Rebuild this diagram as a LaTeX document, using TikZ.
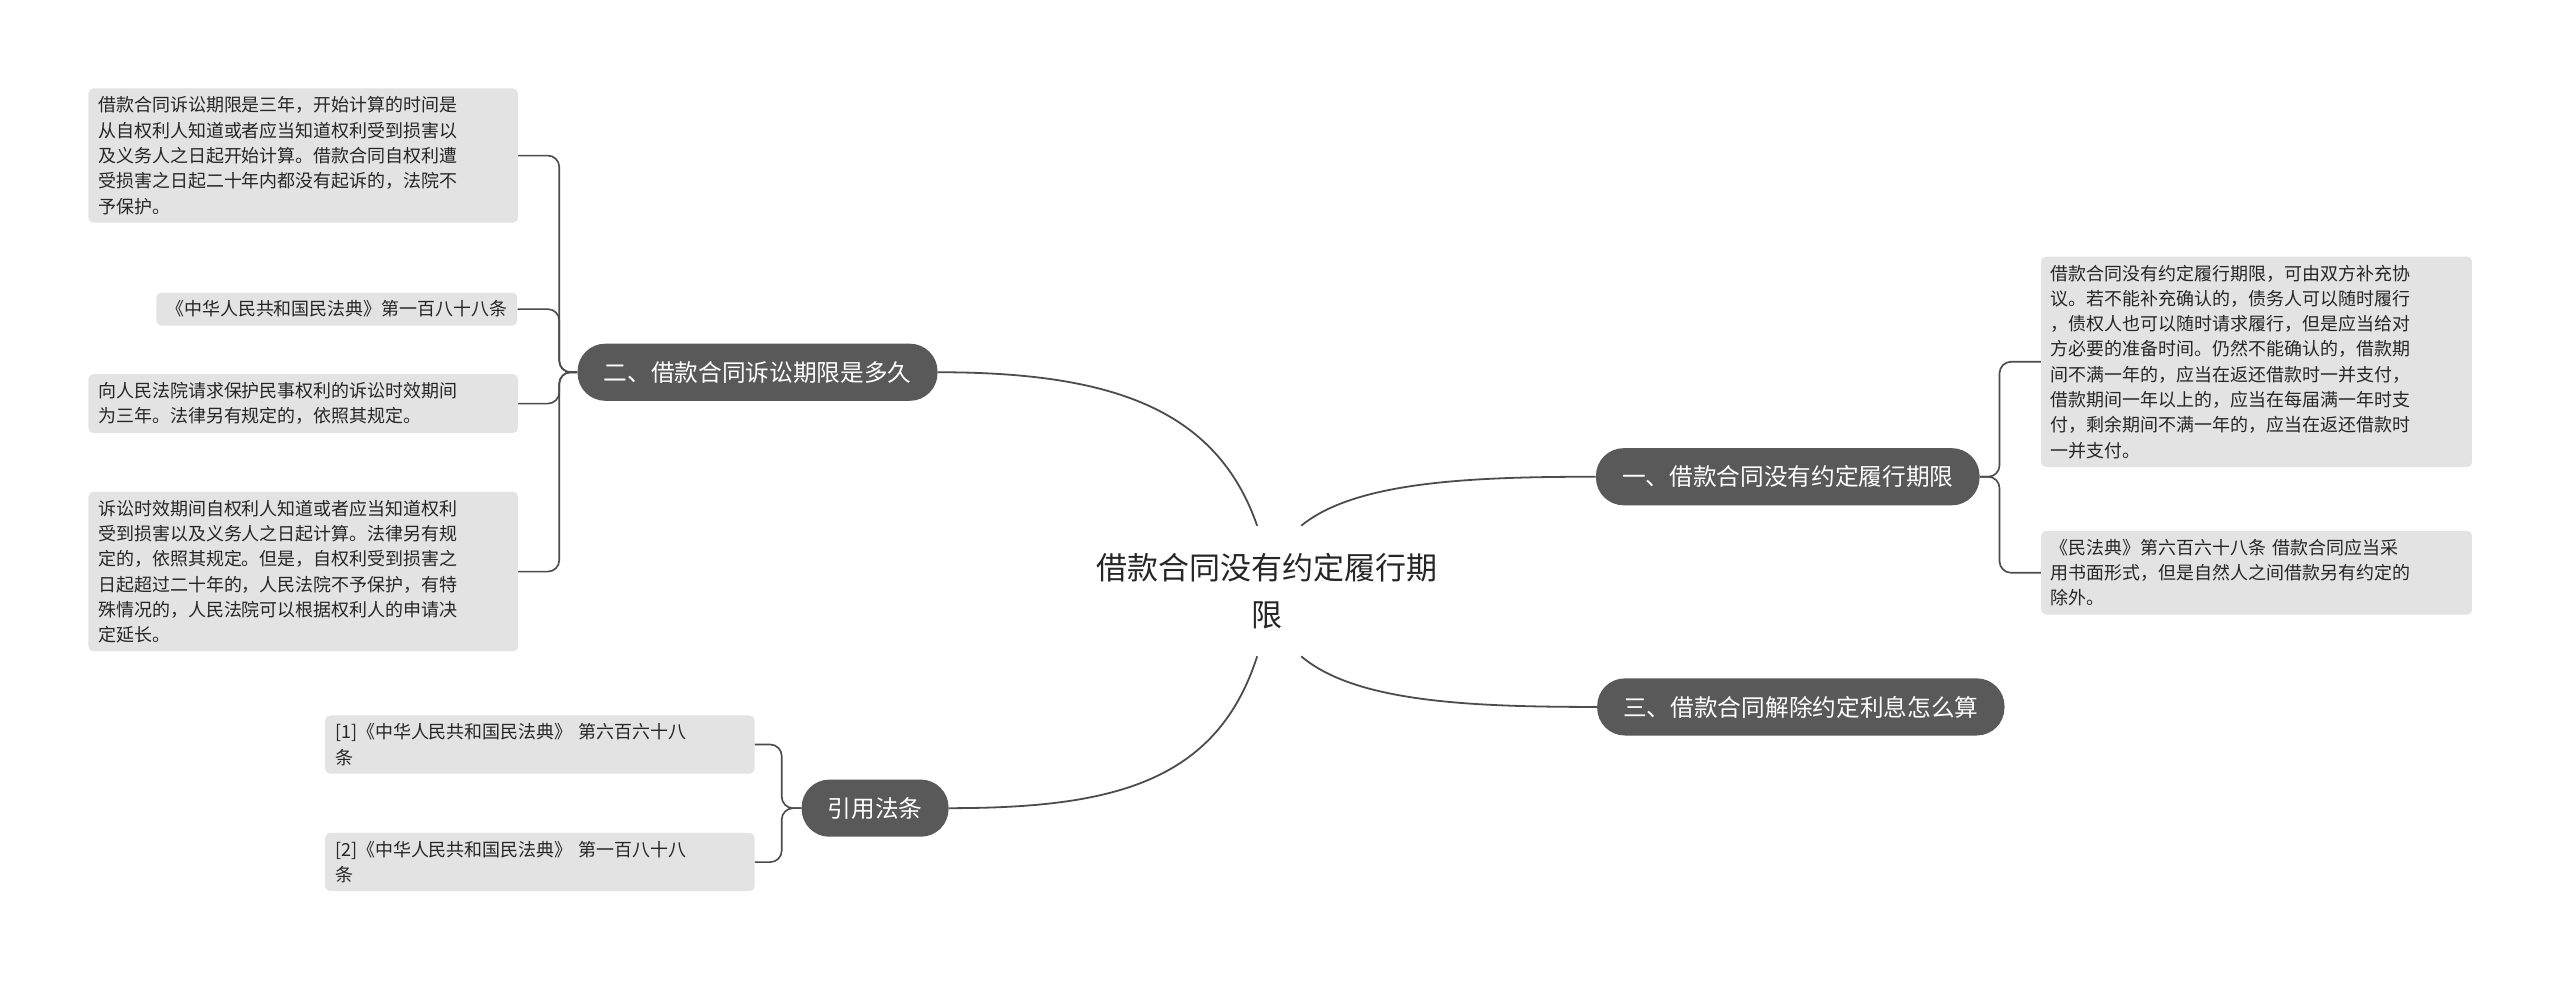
\documentclass[tikz,border=0pt]{standalone}
\usepackage{fontspec}
\setmainfont{Noto Sans CJK SC}
\begin{document}
\begin{tikzpicture}[x=1pt,y=-1pt,
  mainn/.style={fill=black!65,text=white,rounded corners=17pt,minimum height=35pt,inner xsep=16pt,font=\fontsize{14.5}{17}\selectfont},
  leaf/.style={fill=black!11,rounded corners=3pt,anchor=north west,inner xsep=6pt,inner ysep=5pt,align=left,text=black!85,font=\fontsize{11}{15.5}\selectfont},
  conn/.style={draw=black!70,line width=1.1pt},
  br/.style={draw=black!70,line width=1pt,rounded corners=7pt}]
\useasboundingbox[fill=white] (0,0) rectangle (1568,607);
\node[font=\fontsize{19}{29}\selectfont,align=center,text=black!85] (c) at (776,362) {借款合同没有约定履行期\\限};
\node[mainn] (m2) at (464,228) {二、借款合同诉讼期限是多久};
\node[mainn] (m1) at (1095,292) {一、借款合同没有约定履行期限};
\node[mainn] (m3) at (1103,433) {三、借款合同解除约定利息怎么算};
\node[mainn] (m4) at (536,495) {引用法条};
\coordinate (c2) at (770,322); \coordinate (c1) at (797,322);
\coordinate (c3) at (797,402); \coordinate (c4) at (770,402);
\draw[conn] (c2) .. controls (745,250) and (680,228) .. (m2.east);
\draw[conn] (c1) .. controls (830,295) and (900,292) .. (m1.west);
\draw[conn] (c3) .. controls (830,430) and (900,433) .. (m3.west);
\draw[conn] (c4) .. controls (745,480) and (680,495) .. (m4.east);
\node[leaf,text width=251pt] (l1) at (54,54) {借款合同诉讼期限是三年，开始计算的时间是\\从自权利人知道或者应当知道权利受到损害以\\及义务人之日起开始计算。借款合同自权利遭\\受损害之日起二十年内都没有起诉的，法院不\\予保护。};
\node[leaf,anchor=north east] (l2) at (317,179) {《中华人民共和国民法典》第一百八十八条};
\node[leaf,text width=251pt] (l3) at (54,229) {向人民法院请求保护民事权利的诉讼时效期间\\为三年。法律另有规定的，依照其规定。};
\node[leaf,text width=251pt] (l4) at (54,301) {诉讼时效期间自权利人知道或者应当知道权利\\受到损害以及义务人之日起计算。法律另有规\\定的，依照其规定。但是，自权利受到损害之\\日起超过二十年的，人民法院不予保护，有特\\殊情况的，人民法院可以根据权利人的申请决\\定延长。};
\node[leaf,text width=252pt] (r1) at (1250,157) {借款合同没有约定履行期限，可由双方补充协\\议。若不能补充确认的，债务人可以随时履行\\，债权人也可以随时请求履行，但是应当给对\\方必要的准备时间。仍然不能确认的，借款期\\间不满一年的，应当在返还借款时一并支付，\\借款期间一年以上的，应当在每届满一年时支\\付，剩余期间不满一年的，应当在返还借款时\\一并支付。};
\node[leaf,text width=252pt] (r2) at (1250,325) {《民法典》第六百六十八条 借款合同应当采\\用书面形式，但是自然人之间借款另有约定的\\除外。};
\node[leaf,text width=251pt] (q1) at (199,438) {[1]《中华人民共和国民法典》 第六百六十八\\条};
\node[leaf,text width=251pt] (q2) at (199,510) {[2]《中华人民共和国民法典》 第一百八十八\\条};
\foreach \l in {l1,l2,l3,l4} \draw[br] (m2.west) -- ++(-11,0) |- (\l.east);
\foreach \l in {r1,r2} \draw[br] (m1.east) -- ++(12,0) |- (\l.west);
\foreach \l in {q1,q2} \draw[br] (m4.west) -- ++(-12,0) |- (\l.east);
\end{tikzpicture}
\end{document}
